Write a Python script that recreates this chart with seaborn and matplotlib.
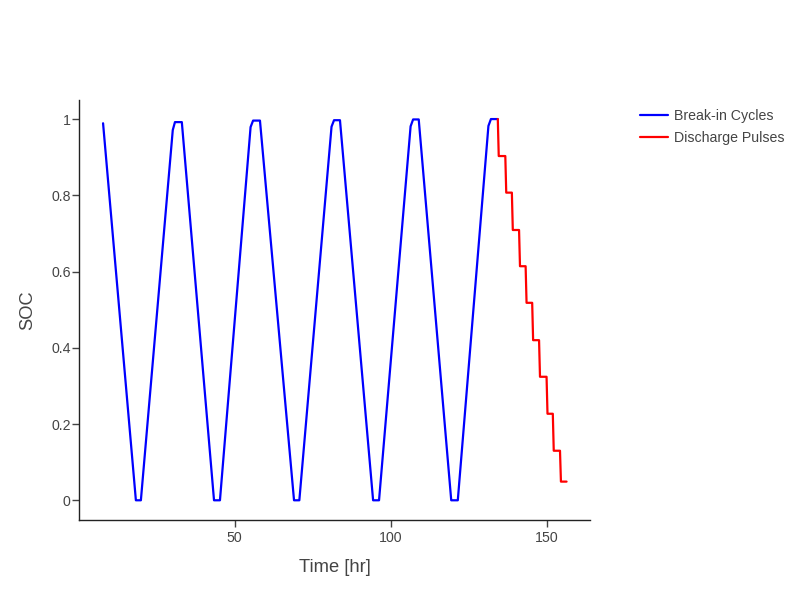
import matplotlib
matplotlib.use("Agg")
import matplotlib.pyplot as plt
import seaborn as sns
import pandas as pd

# --- data ---
breakin_time = [7.9, 18.4, 20.0, 30.2, 30.9, 33.1, 43.4, 45.3, 55.1, 55.9, 58.1,
                69.0, 70.7, 81.0, 81.8, 83.7, 94.3, 96.2, 106.3, 107.1, 108.9,
                119.3, 121.4, 131.2, 132.0, 134.2]
breakin_soc = [0.989, 0.0, 0.0, 0.971, 0.992, 0.992, 0.0, 0.0, 0.979, 0.996, 0.996,
               0.0, 0.0, 0.980, 0.997, 0.997, 0.0, 0.0, 0.981, 0.999, 0.999,
               0.0, 0.0, 0.982, 1.0, 1.0]

pulse_time = [134.2, 134.5, 136.6, 136.9, 138.7, 139.0, 141.0, 141.3, 143.1, 143.4,
              145.2, 145.5, 147.4, 147.7, 149.8, 150.1, 151.8, 152.1, 154.1, 154.4, 156.2]
pulse_soc = [1.0, 0.903, 0.903, 0.807, 0.807, 0.709, 0.709, 0.614, 0.614, 0.518,
             0.518, 0.420, 0.420, 0.324, 0.324, 0.227, 0.227, 0.130, 0.130, 0.049, 0.049]

series_names = ["Break-in Cycles", "Discharge Pulses"]
series_colors = ["#0000ff", "#ff0000"]

df = pd.concat([
    pd.DataFrame({"Time": breakin_time, "SOC": breakin_soc, "Series": series_names[0]}),
    pd.DataFrame({"Time": pulse_time, "SOC": pulse_soc, "Series": series_names[1]}),
], ignore_index=True)

sns.set_theme(style="white")
plt.rcParams["font.family"] = ["Liberation Sans", "DejaVu Sans"]

fig = plt.figure(figsize=(8, 6), dpi=100)
ax = fig.add_axes([79 / 800, 80 / 600, 511 / 800, 420 / 600])

sns.lineplot(data=df, x="Time", y="SOC", hue="Series", palette=dict(zip(series_names, series_colors)),
             sort=False, estimator=None, units="Series", linewidth=1.6, ax=ax)

ax.set_xlim(0.2, 163.7)
ax.set_ylim(-0.0517, 1.050)
ax.set_xticks([50, 100, 150])
ax.set_xticklabels(["50", "100", "150"])
ax.set_yticks([0, 0.2, 0.4, 0.6, 0.8, 1.0])
ax.set_yticklabels(["0", "0.2", "0.4", "0.6", "0.8", "1"])

for s in ["top", "right"]:
    ax.spines[s].set_visible(False)
for s in ["left", "bottom"]:
    ax.spines[s].set_color("#222222")
    ax.spines[s].set_linewidth(1.0)

ax.tick_params(axis="both", which="major", direction="out", length=5, width=1,
               color="#444444", labelcolor="#444444", labelsize=10.2, bottom=True, left=True)
ax.tick_params(axis="x", pad=3)
ax.tick_params(axis="y", pad=1)

ax.set_xlabel("Time [hr]", fontsize=13.2, color="#444444", labelpad=10)
ax.set_ylabel("SOC", fontsize=13.2, color="#444444", labelpad=11)

handles, labels = ax.get_legend_handles_labels()
leg = ax.legend(handles, labels, loc="upper left", bbox_to_anchor=(634 / 800, 1 - 103 / 600),
                bbox_transform=fig.transFigure, frameon=False, fontsize=10.2,
                handlelength=2.0, handletextpad=0.45, labelspacing=0.6, borderaxespad=0)
for t in leg.get_texts():
    t.set_color("#444444")

fig.savefig("out.png", dpi=100)
